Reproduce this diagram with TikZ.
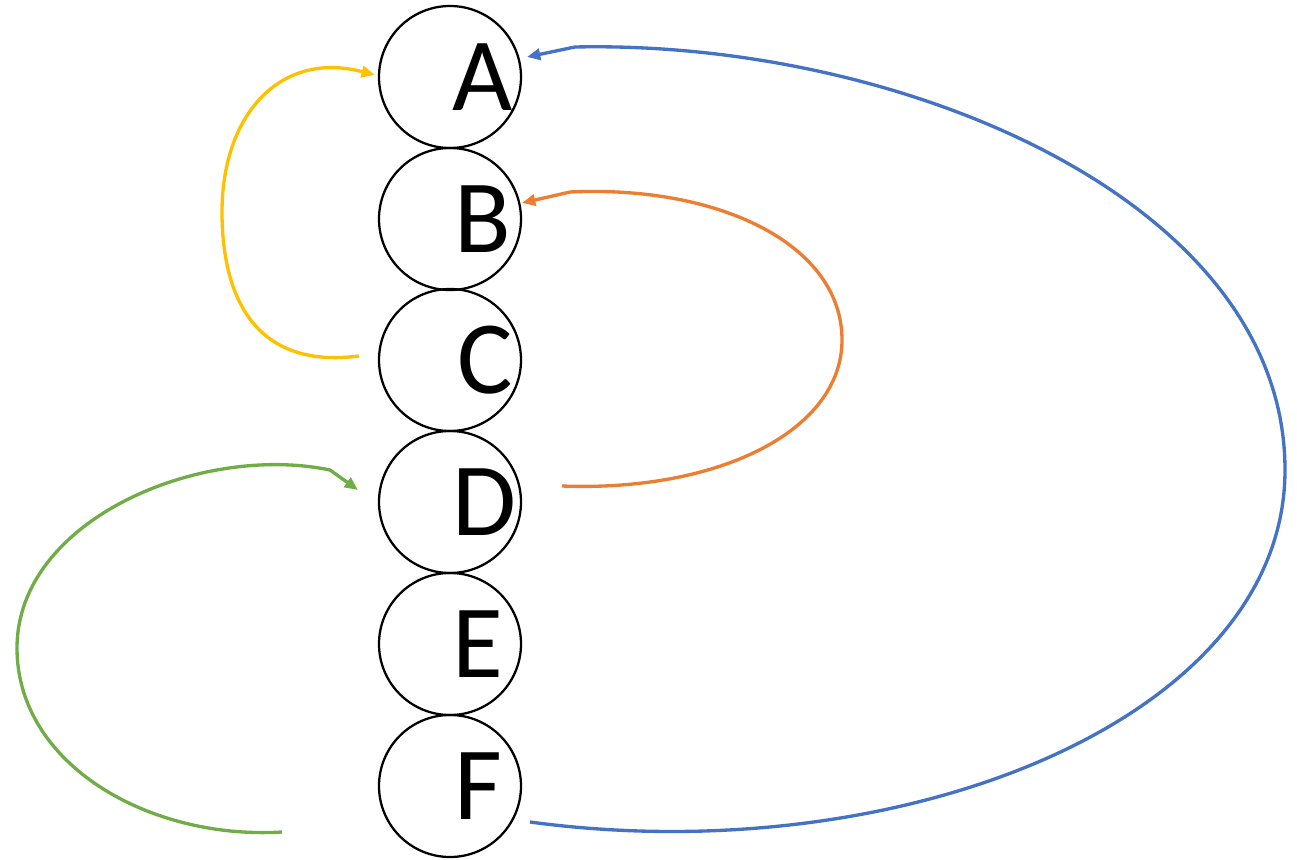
\documentclass[tikz,border=0pt]{standalone}
\usepackage{fontspec}
\setmainfont{Carlito}
\usetikzlibrary{arrows.meta}
\definecolor{oyellow}{HTML}{FFC000}
\definecolor{oorange}{HTML}{ED7D31}
\definecolor{oblue}{HTML}{4472C4}
\definecolor{ogreen}{HTML}{70AD47}
\begin{document}
\begin{tikzpicture}[x=0.75pt,y=-0.75pt,
  vert/.style={circle,draw=black,line width=1.7pt,minimum size=106.5pt,inner sep=0pt},
  lbl/.style={font=\fontsize{78}{78}\selectfont,inner sep=0pt},
  link/.style={line width=2.5pt,-{Triangle[length=10pt,width=8.5pt]}}]
\useasboundingbox (0,0) rectangle (1297,860);
\foreach \n/\y/\x in {A/77/483,B/219/483,C/360/485,D/502/484,E/644/478,F/786/478}{
  \node[vert] (\n) at (450,\y) {};
  \node[lbl] (t\n) at (\x,\y) {\n};
}
\coordinate (yc) at (222,212);
\draw[link,oyellow] ([shift={(-19,-4)}]C.west) .. controls (250,370) and (222,290) .. (yc) .. controls (222,115) and (280,50) .. ([shift={(-3,-2)}]A.west);
\draw[link,oorange] ([shift={(112,-16)}]D.center) .. controls (720,492) and (842,430) .. (842,340) .. controls (842,245) and (720,185) .. (570,192) -- ([shift={(72,-16)}]B.center);
\draw[link,oblue] ([shift={(80,36)}]F.center) .. controls (900,872) and (1285,720) .. (1285,470) .. controls (1285,200) and (900,40) .. (575,47) -- ([shift={(77,-20)}]A.center);
\draw[link,ogreen] ([shift={(-168,46)}]F.center) .. controls (150,840) and (17,765) .. (17,648) .. controls (17,520) and (200,443) .. (330,470) -- ([shift={(-92,-12)}]D.center);
\end{tikzpicture}
\end{document}
